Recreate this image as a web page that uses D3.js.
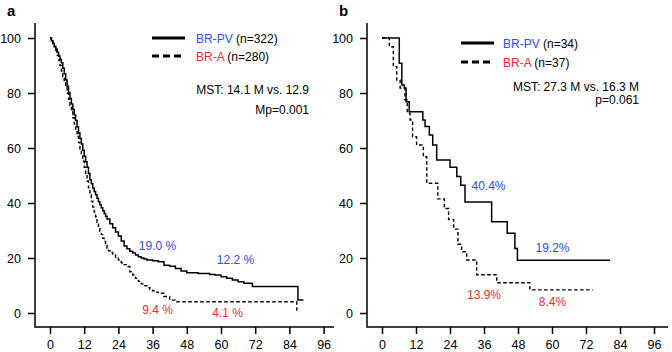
<!DOCTYPE html>
<html>
<head>
<meta charset="utf-8">
<script src="https://cdn.jsdelivr.net/npm/d3@7"></script>
<style>
body { margin: 0; background: #fff; }
text { font-family: "Liberation Sans", Arial, Helvetica, sans-serif; }
</style>
</head>
<body>
<script>
// Panel a: BR-PV (n=322) and BR-A (n=280)
const aMonthsPV = [0,0.5,1,1.5,2,2.5,3,3.5,4,4.5,5,5.5,6,6.5,7,7.5,8,8.5,9,9.5,10,10.5,11,11.5,12,12.5,13,13.5,14,14.5,15,15.5,16,16.5,17,17.5,18,18.5,19,19.5,20,21,22,23,24,25,26,27,28,29,30,31,32,33,34,36,38,40,42,44,46,48,52,56,58,60,62,64,66,68,71,87,88.9];
const aSurvPV = [100,99,98,97,96,94.8,93.5,92.3,91,89,87,84.7,82.5,80.2,78,76,74,72,70,67.7,65.5,63.5,61.5,59.2,57,55,53,50.7,48.5,47,45.5,44.2,43,41.7,40.5,39.4,38.3,37.2,36.2,35.2,34.2,32.5,31,29.5,28,26.2,24.4,23.4,22.5,21.8,21.1,20.5,20,19.6,19.3,19,18.6,17.4,17,16.2,15.3,14.6,14.4,14,13.8,13.2,12.6,12,11.4,10.8,9.6,4.7,4.7];
const aMonthsA = [0,0.5,1,1.5,2,2.5,3,3.5,4,4.5,5,5.5,6,6.5,7,7.5,8,8.5,9,9.5,10,10.5,11,11.5,12,12.5,13,13.5,14,14.5,15,15.5,16,16.5,17,17.5,18,18.5,19,19.5,20,20.5,21,22,23,24,25,26,27,28,29,30,31,32,33,34,35,36,37,38,40,42,44,86.6];
const aSurvA = [100,99,98,96.8,95.5,93.8,92,90,88,86,84,82,80,77.7,75.5,73.2,71,68.7,66.5,64.2,62,59.7,57.5,55.2,53,50.5,48,45.5,43,40.7,38.5,36.7,35,33,31,29.7,28.5,27.2,26,24.7,23.5,22.7,22,21,20.3,19.3,18.3,17.6,16.9,15,13.8,12.6,11.5,10.6,9.9,9.2,8.6,8.1,7.6,7.2,6,4.7,4.1,0.5];

// Panel b: BR-PV (n=34) and BR-A (n=37)
const bMonthsPV = [0,6.1,7,7.9,8.5,9.6,14.4,15.2,16.7,17.9,19.3,24,26.4,27.8,29.3,38.7,44.2,46.9,47.8,80.5];
const bSurvPV = [100,90.8,82.9,81.7,76.8,73.2,70.2,67.8,64.7,61.1,55.6,53,49.6,46.5,40.4,33.2,29,23.5,19.2,19.2];
const bMonthsA = [0,2.6,4,5.2,6.4,8.1,8.9,9.9,10.8,12.2,14.6,15.8,19.7,22,23.5,25.3,26.8,28.1,29.9,33.4,40.5,52.2,74.4];
const bSurvA = [100,96.8,89.6,84.7,81.8,77.5,72.7,70.2,64.1,61.1,56.8,47.2,41.5,38,34,30.5,25,22.3,19.3,13.9,11,8.4,8.4];

const xTicks = [0,12,24,36,48,60,72,84,96];
const yTicks = [0,20,40,60,80,100];

const blue = "#2f4cf2";
const red = "#ef2a2f";

const width = 672, height = 352;

const svg = d3.select("body").append("svg")
  .attr("width", width)
  .attr("height", height);

function zip(ms, ss) {
  return ms.map(function(m, i){ return {m: m, s: ss[i]}; });
}

function panel(cfg) {
  const x = d3.scaleLinear().domain([0, 96]).range([cfg.x0, cfg.x96]);
  const y = d3.scaleLinear().domain([0, 100]).range([313, 38]);
  const axisY = 327;

  // y axis
  svg.append("g")
    .attr("transform", "translate(" + cfg.axisX + ",0)")
    .call(d3.axisLeft(y).tickValues(yTicks).tickSize(7).tickPadding(7))
    .call(function(g){ g.select(".domain").remove(); })
    .call(function(g){ g.selectAll("text").attr("font-size", 12.5).attr("fill", "#000")
      .attr("font-family", "Liberation Sans, Arial, sans-serif"); })
    .call(function(g){ g.selectAll("line").attr("stroke-width", 1.5); });

  // x axis
  svg.append("g")
    .attr("transform", "translate(0," + axisY + ")")
    .call(d3.axisBottom(x).tickValues(xTicks).tickSize(7).tickPadding(6))
    .call(function(g){ g.select(".domain").remove(); })
    .call(function(g){ g.selectAll("text").attr("font-size", 12.5).attr("fill", "#000")
      .attr("font-family", "Liberation Sans, Arial, sans-serif"); })
    .call(function(g){ g.selectAll("line").attr("stroke-width", 1.5); });

  // L-shaped frame
  svg.append("path")
    .attr("d", "M" + cfg.axisX + ",23V" + axisY + "H" + cfg.xEnd)
    .attr("fill", "none")
    .attr("stroke", "#000")
    .attr("stroke-width", 1.5);

  const line = d3.line()
    .x(function(d){ return x(d.m); })
    .y(function(d){ return y(d.s); })
    .curve(d3.curveStepAfter);

  svg.append("path")
    .datum(zip(cfg.monthsA, cfg.survA))
    .attr("d", line)
    .attr("fill", "none")
    .attr("stroke", "#000")
    .attr("stroke-width", 1.4)
    .attr("stroke-dasharray", "3.5,2.5");

  svg.append("path")
    .datum(zip(cfg.monthsPV, cfg.survPV))
    .attr("d", line)
    .attr("fill", "none")
    .attr("stroke", "#000")
    .attr("stroke-width", 1.5);

  // panel letter
  svg.append("text")
    .attr("x", cfg.letterX).attr("y", 16)
    .attr("font-size", 15).attr("font-weight", "bold")
    .text(cfg.letter);

  // legend
  const lg = cfg.legend;
  svg.append("line")
    .attr("x1", lg.x1).attr("x2", lg.x2).attr("y1", lg.y1).attr("y2", lg.y1)
    .attr("stroke", "#000").attr("stroke-width", 2.8);
  svg.append("line")
    .attr("x1", lg.x1).attr("x2", lg.x2).attr("y1", lg.y2).attr("y2", lg.y2)
    .attr("stroke", "#000").attr("stroke-width", 2.8)
    .attr("stroke-dasharray", "7,4");

  const t1 = svg.append("text").attr("x", lg.tx).attr("y", lg.y1 + 4.5).attr("font-size", 12);
  t1.append("tspan").attr("fill", blue).text("BR-PV");
  t1.append("tspan").attr("fill", "#000").text(" " + cfg.nPV);
  const t2 = svg.append("text").attr("x", lg.tx).attr("y", lg.y2 + 4.5).attr("font-size", 12);
  t2.append("tspan").attr("fill", red).text("BR-A");
  t2.append("tspan").attr("fill", "#000").text(" " + cfg.nA);

  svg.append("text")
    .attr("x", cfg.mstX).attr("y", cfg.mstY)
    .attr("text-anchor", "end").attr("font-size", 12)
    .text(cfg.mst);
  svg.append("text")
    .attr("x", cfg.mstX).attr("y", cfg.pY)
    .attr("text-anchor", "end").attr("font-size", 12)
    .text(cfg.p);

  cfg.notes.forEach(function(n){
    svg.append("text")
      .attr("x", n.x).attr("y", n.y)
      .attr("text-anchor", "middle").attr("font-size", 12)
      .attr("fill", n.c)
      .text(n.t);
  });
}

panel({
  x0: 50, x96: 323.6, axisX: 35, xEnd: 334,
  monthsPV: aMonthsPV, survPV: aSurvPV, monthsA: aMonthsA, survA: aSurvA,
  letter: "a", letterX: 7,
  legend: {x1: 152, x2: 185, y1: 38, y2: 56, tx: 196},
  nPV: "(n=322)", nA: "(n=280)",
  mst: "MST: 14.1 M vs. 12.9", p: "Mp=0.001", mstX: 309, mstY: 94, pY: 114,
  notes: [
    {t: "19.0 %", x: 157.5, y: 250, c: blue},
    {t: "12.2 %", x: 235.5, y: 264, c: blue},
    {t: "9.4 %", x: 157.5, y: 314, c: red},
    {t: "4.1 %", x: 227.5, y: 317, c: red}
  ]
});

panel({
  x0: 382, x96: 654, axisX: 367, xEnd: 668,
  monthsPV: bMonthsPV, survPV: bSurvPV, monthsA: bMonthsA, survA: bSurvA,
  letter: "b", letterX: 339,
  legend: {x1: 461, x2: 494, y1: 43, y2: 62, tx: 503},
  nPV: "(n=34)", nA: "(n=37)",
  mst: "MST: 27.3 M vs. 16.3 M", p: "p=0.061", mstX: 639, mstY: 91, pY: 104,
  notes: [
    {t: "40.4%", x: 488.5, y: 190, c: blue},
    {t: "19.2%", x: 552.5, y: 252, c: blue},
    {t: "13.9%", x: 484, y: 299, c: red},
    {t: "8.4%", x: 552.5, y: 306, c: red}
  ]
});
</script>
</body>
</html>
